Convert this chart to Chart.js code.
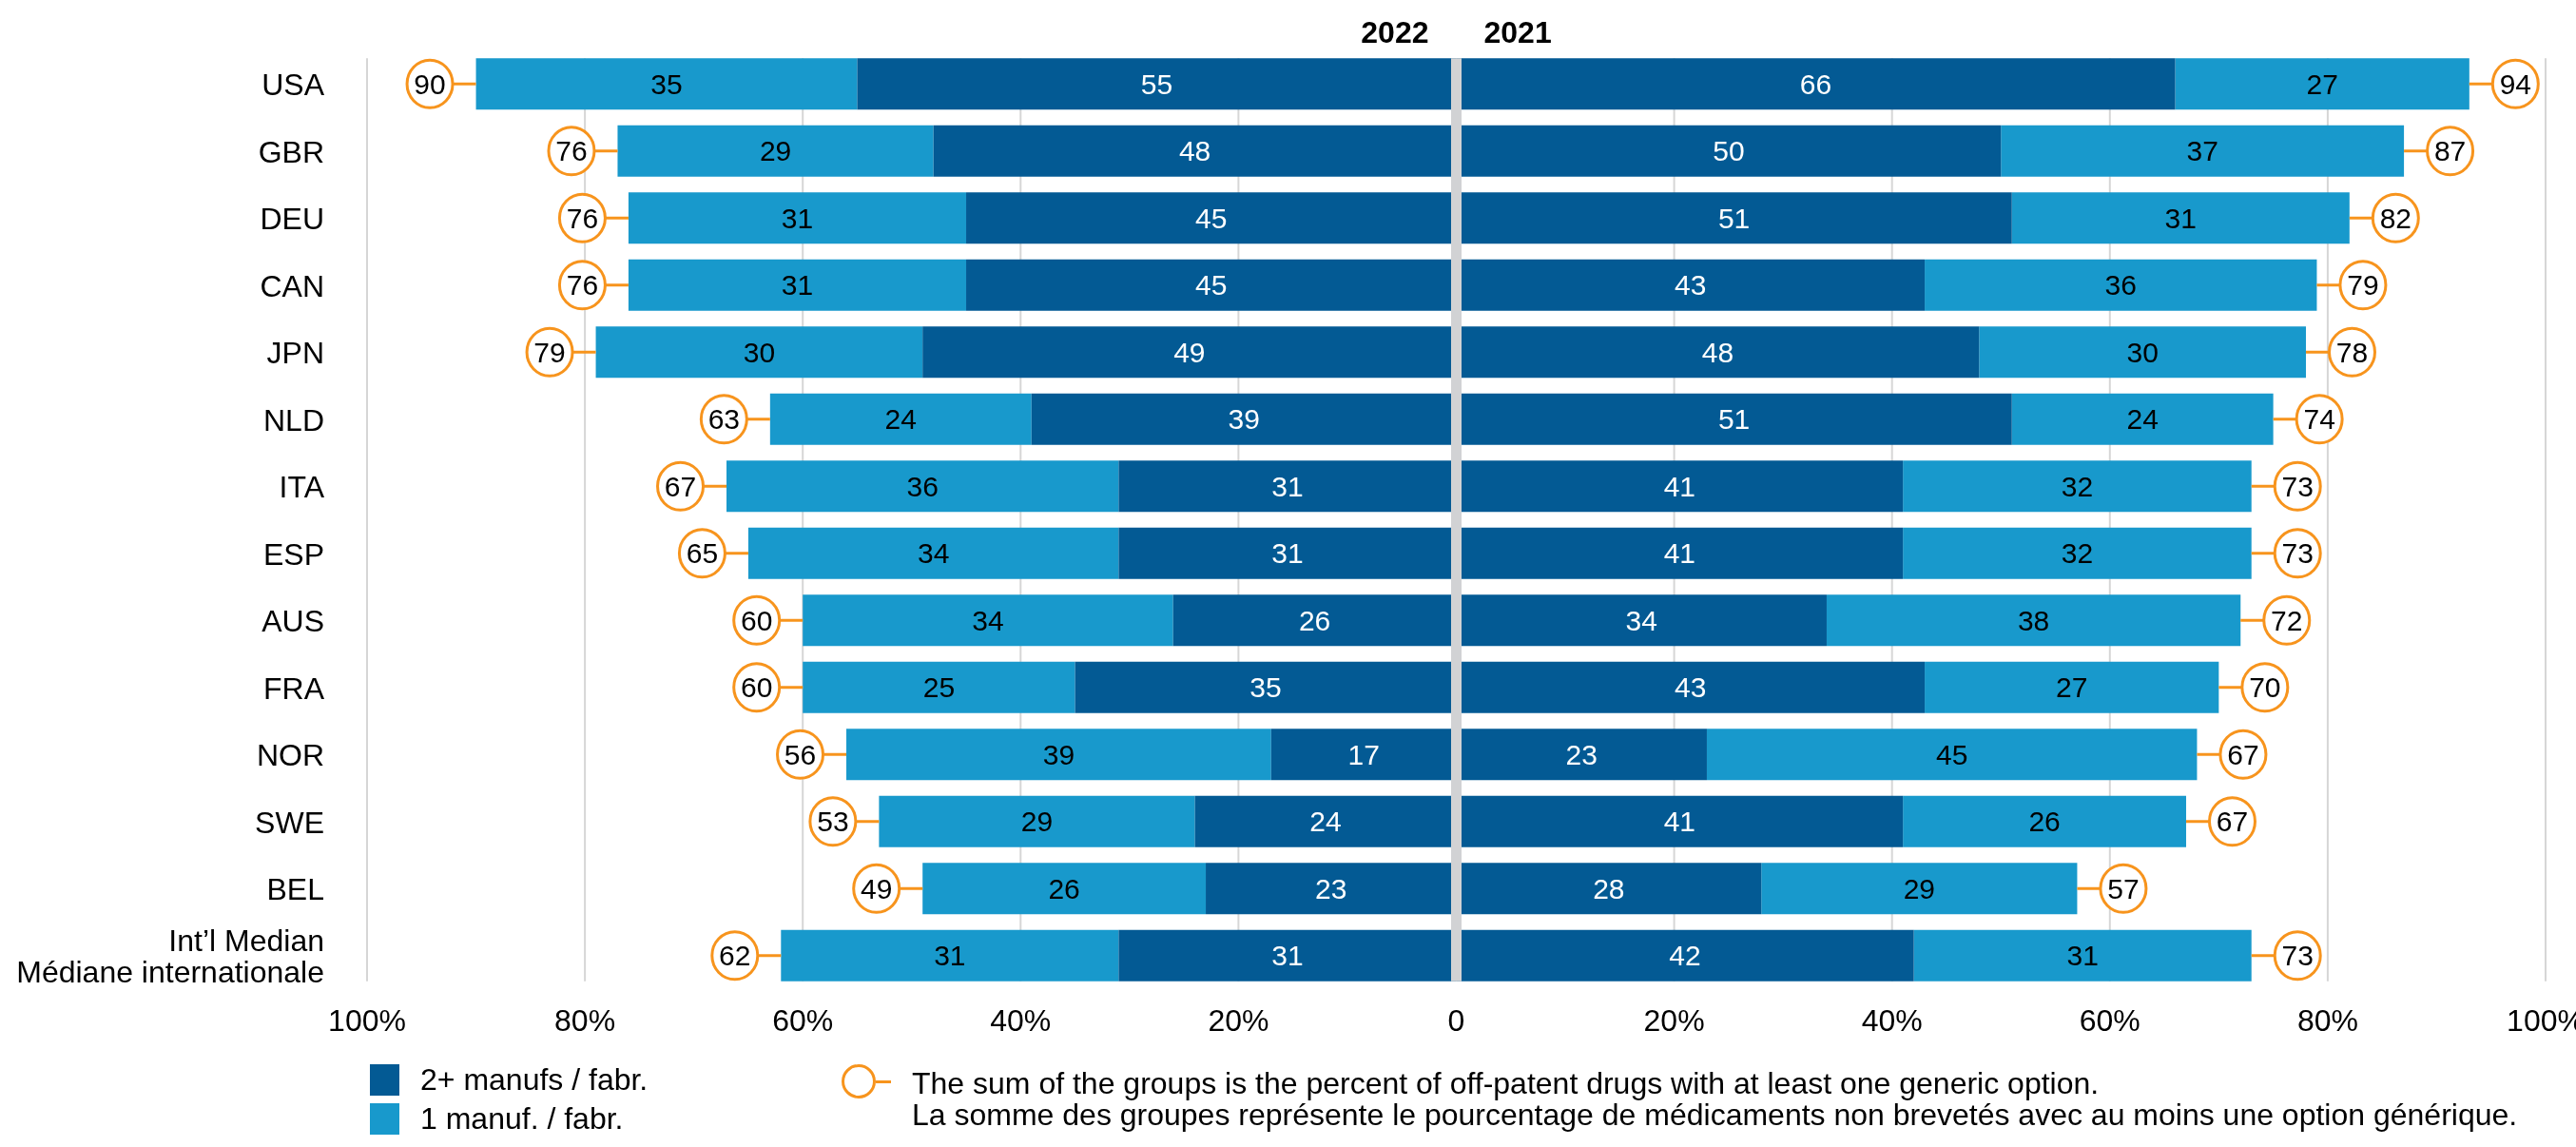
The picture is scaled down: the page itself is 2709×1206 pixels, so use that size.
<!DOCTYPE html>
<html>
<head>
<meta charset="utf-8">
<script src="https://cdn.jsdelivr.net/npm/chart.js@4.4.1/dist/chart.umd.min.js"></script>
<style>
  body { margin: 0; background: #fff; font-family: "Liberation Sans", Arial, sans-serif; }
  #wrap { position: relative; width: 2709px; height: 1206px; }
  #graphique { position: absolute; left: 0; top: 0; }
  .carre { position: absolute; width: 31px; height: 33px; }
  .texte { position: absolute; font-size: 32px; line-height: 33px; color: #000; white-space: nowrap; }
  #rond { position: absolute; left: 885px; top: 1119px; width: 36px; height: 36px; box-sizing: border-box; border: 3px solid #f7941d; border-radius: 50%; }
  #trait { position: absolute; left: 921px; top: 1136px; width: 16px; height: 3px; background: #f7941d; }
</style>
</head>
<body>
<div id="wrap">
  <canvas id="graphique" width="2709" height="1206"></canvas>
  <div class="carre" style="left:389px;top:1119px;background:#035a94"></div>
  <div class="texte" style="left:442px;top:1119px">2+ manufs / fabr.</div>
  <div class="carre" style="left:389px;top:1160px;background:#1899cc"></div>
  <div class="texte" style="left:442px;top:1160px">1 manuf. / fabr.</div>
  <div id="rond"></div>
  <div id="trait"></div>
  <div class="texte" style="left:959px;top:1123px">The sum of the groups is the percent of off-patent drugs with at least one generic option.<br>La somme des groupes représente le pourcentage de médicaments non brevetés avec au moins une option générique.</div>
</div>
<script>
// pays / marchés
const pays = ['USA', 'GBR', 'DEU', 'CAN', 'JPN', 'NLD', 'ITA', 'ESP', 'AUS', 'FRA', 'NOR', 'SWE', 'BEL',
  ['Int\u2019l Median', 'Médiane internationale']];

// 2022 (côté gauche)
const plusieurs2022 = [55, 48, 45, 45, 49, 39, 31, 31, 26, 35, 17, 24, 23, 31];
const un2022 = [35, 29, 31, 31, 30, 24, 36, 34, 34, 25, 39, 29, 26, 31];
const total2022 = [90, 76, 76, 76, 79, 63, 67, 65, 60, 60, 56, 53, 49, 62];

// 2021 (côté droit)
const plusieurs2021 = [66, 50, 51, 43, 48, 51, 41, 41, 34, 43, 23, 41, 28, 42];
const un2021 = [27, 37, 31, 36, 30, 24, 32, 32, 38, 27, 45, 26, 29, 31];
const total2021 = [94, 87, 82, 79, 78, 74, 73, 73, 72, 70, 67, 67, 57, 73];

const annees = ['2022', '2021'];

const bleuFonce = '#035a94';
const bleuClair = '#1899cc';
const orange = '#f7941d';
const police = '"Liberation Sans", Arial, sans-serif';

Chart.defaults.font.family = police;
Chart.defaults.color = '#000';

// dessine grilles, bande centrale, valeurs et cercles des totaux
const decor = {
  id: 'decor',
  beforeDatasetsDraw(chart) {
    const ctx = chart.ctx;
    const x = chart.scales.x;
    const barres = chart.getDatasetMeta(0).data;
    const haut = barres[0].y - barres[0].height / 2;
    const bas = barres[barres.length - 1].y + barres[barres.length - 1].height / 2;
    ctx.save();
    ctx.strokeStyle = '#d6d6d6';
    ctx.lineWidth = 2;
    x.ticks.forEach(t => {
      if (t.value === 0) return;
      const px = x.getPixelForValue(t.value);
      ctx.beginPath();
      ctx.moveTo(px, haut);
      ctx.lineTo(px, bas);
      ctx.stroke();
    });
    ctx.restore();
  },
  afterDatasetsDraw(chart) {
    const ctx = chart.ctx;
    const x = chart.scales.x;
    const barres = chart.getDatasetMeta(0).data;
    const haut = barres[0].y - barres[0].height / 2;
    const bas = barres[barres.length - 1].y + barres[barres.length - 1].height / 2;
    const zero = x.getPixelForValue(0);

    ctx.save();
    ctx.textAlign = 'center';
    ctx.textBaseline = 'middle';
    ctx.font = '30px ' + police;

    // valeurs dans les barres
    chart.data.datasets.forEach((ds, i) => {
      chart.getDatasetMeta(i).data.forEach((barre, j) => {
        ctx.fillStyle = ds.backgroundColor === bleuFonce ? '#fff' : '#000';
        ctx.fillText(Math.abs(ds.data[j]), (barre.x + barre.base) / 2, barre.y + 2);
      });
    });

    // bande grise au centre
    ctx.fillStyle = '#d1d2d4';
    ctx.fillRect(zero - 5.5, haut, 11, bas - haut);

    // cercles des totaux
    const r = 24;
    const ecart = 48.5;
    const gauche = chart.getDatasetMeta(1).data;
    const droite = chart.getDatasetMeta(3).data;
    function cercle(cx, cy, bout, valeur) {
      ctx.strokeStyle = orange;
      ctx.lineWidth = 3;
      ctx.beginPath();
      ctx.moveTo(bout, cy);
      ctx.lineTo(cx + (bout > cx ? r : -r), cy);
      ctx.stroke();
      ctx.beginPath();
      ctx.ellipse(cx, cy, r, r + 1, 0, 0, Math.PI * 2);
      ctx.fillStyle = '#fff';
      ctx.fill();
      ctx.stroke();
      ctx.fillStyle = '#000';
      ctx.fillText(valeur, cx, cy + 2);
    }
    gauche.forEach((barre, j) => cercle(barre.x - ecart, barre.y, barre.x, total2022[j]));
    droite.forEach((barre, j) => cercle(barre.x + ecart, barre.y, barre.x, total2021[j]));

    // années
    ctx.font = 'bold 32px ' + police;
    ctx.fillStyle = '#000';
    ctx.textAlign = 'right';
    ctx.fillText(annees[0], zero - 29, haut - 25);
    ctx.textAlign = 'left';
    ctx.fillText(annees[1], zero + 29, haut - 25);
    ctx.restore();
  }
};

const ctx = document.getElementById('graphique').getContext('2d');
new Chart(ctx, {
  type: 'bar',
  data: {
    labels: pays,
    datasets: [
      { label: '2+ manufs / fabr. 2022', data: plusieurs2022.map(v => -v), backgroundColor: bleuFonce },
      { label: '1 manuf. / fabr. 2022', data: un2022.map(v => -v), backgroundColor: bleuClair },
      { label: '2+ manufs / fabr. 2021', data: plusieurs2021, backgroundColor: bleuFonce },
      { label: '1 manuf. / fabr. 2021', data: un2021, backgroundColor: bleuClair }
    ]
  },
  options: {
    indexAxis: 'y',
    responsive: false,
    animation: false,
    datasets: {
      bar: { barPercentage: 0.766, categoryPercentage: 1, borderWidth: 0 }
    },
    layout: { padding: { top: 53, right: 32, bottom: 106, left: 0 } },
    plugins: {
      legend: { display: false },
      tooltip: { enabled: false }
    },
    scales: {
      x: {
        stacked: true,
        min: -100,
        max: 100,
        grid: { display: false },
        border: { display: false },
        ticks: {
          stepSize: 20,
          padding: 8,
          font: { size: 32 },
          callback: function(v) {
            return v === 0 ? '0' : Math.abs(v) + '%';
          }
        },
        afterFit: function(scale) {
          scale.height = 60;
          scale.paddingLeft = 0;
          scale.paddingRight = 0;
        }
      },
      y: {
        stacked: true,
        grid: { display: false },
        border: { display: false },
        ticks: {
          autoSkip: false,
          padding: 37,
          labelOffset: 3,
          font: { size: 32, lineHeight: 1.03 }
        },
        afterFit: function(scale) {
          scale.width = 386;
          scale.paddingTop = 0;
          scale.paddingBottom = 0;
        }
      }
    }
  },
  plugins: [decor]
});
</script>
</body>
</html>
